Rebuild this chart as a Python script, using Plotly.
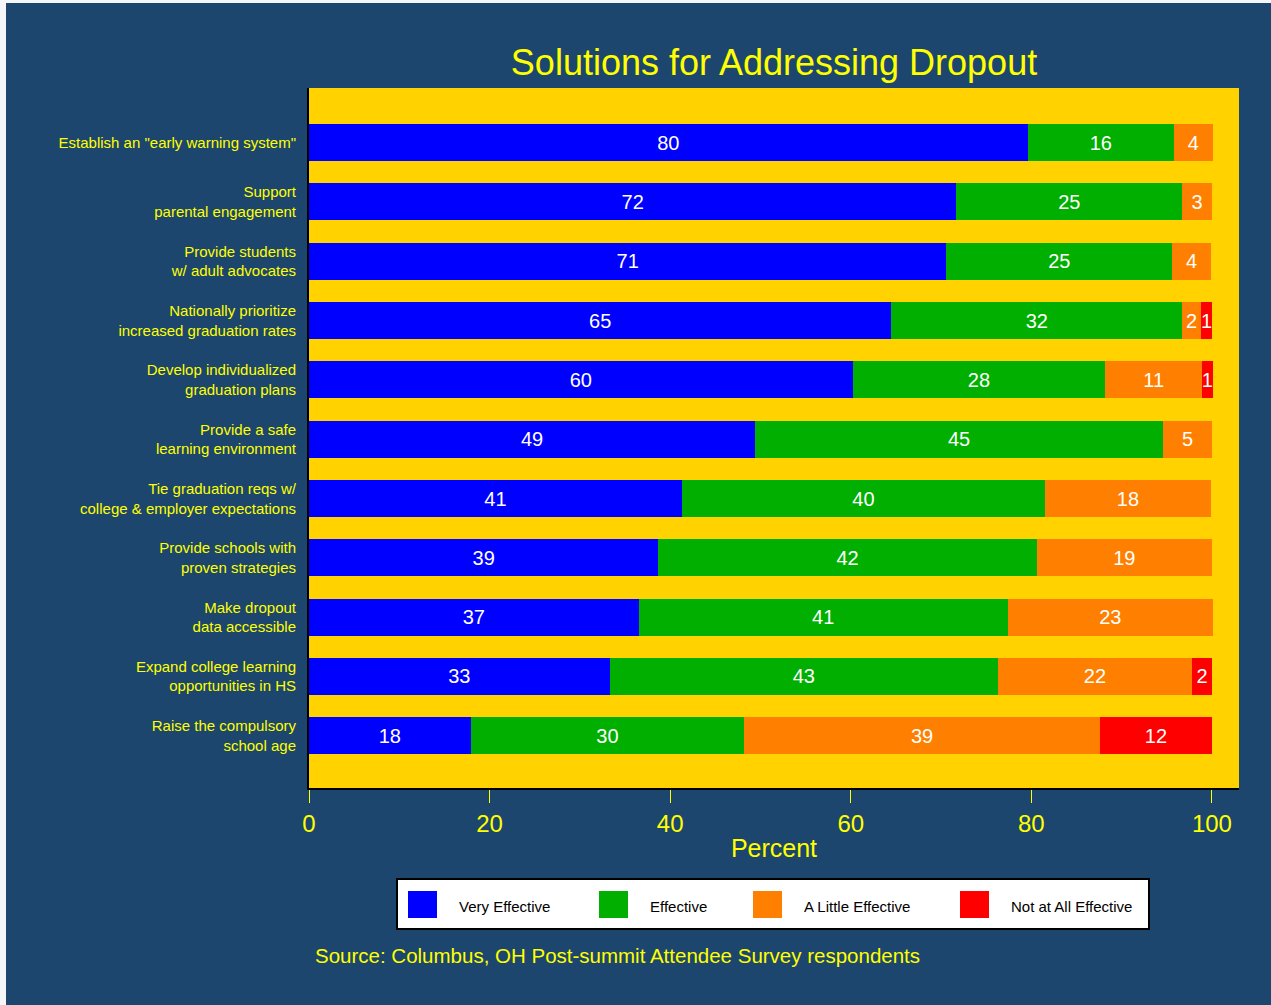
import plotly.graph_objects as go

# ---------------- data ----------------
categories = [
    'Establish an "early warning system"',
    "Support<br>parental engagement",
    "Provide students<br>w/ adult advocates",
    "Nationally prioritize<br>increased graduation rates",
    "Develop individualized<br>graduation plans",
    "Provide a safe<br>learning environment",
    "Tie graduation reqs w/<br>college & employer expectations",
    "Provide schools with<br>proven strategies",
    "Make dropout<br>data accessible",
    "Expand college learning<br>opportunities in HS",
    "Raise the compulsory<br>school age",
]
very_effective = [79.6, 71.7, 70.6, 64.5, 60.2, 49.4, 41.3, 38.7, 36.5, 33.3, 17.9]
effective = [16.2, 25.0, 25.0, 32.2, 28.0, 45.2, 40.2, 41.9, 40.9, 43.0, 30.3]
a_little_effective = [4.3, 3.3, 4.3, 2.1, 10.7, 5.4, 18.4, 19.4, 22.7, 21.5, 39.4]
not_at_all_effective = [None, None, None, 1.2, 1.2, None, None, None, None, 2.2, 12.4]

series_names = ["Very Effective", "Effective", "A Little Effective", "Not at All Effective"]
series_values = [very_effective, effective, a_little_effective, not_at_all_effective]
series_colors = ["#0000FF", "#00AF00", "#FF8000", "#FF0000"]

x_ticks = [0, 20, 40, 60, 80, 100]

title_text = "Solutions for Addressing Dropout"
x_title = "Percent"
source_text = "Source: Columbus, OH Post-summit Attendee Survey respondents"

# ---------------- layout constants ----------------
W, H = 1271, 1005
PL, PR, PT, PB = 309, 1239, 88, 788  # plot area in pixels
BG = "#1C466E"
PLOT_BG = "#FFD200"
YELLOW = "#FFFF00"
FONT = "Liberation Sans, Arial, sans-serif"


def px_x(px):
    return (px - PL) / (PR - PL)


def px_y(py):
    return (PB - py) / (PB - PT)


fig = go.Figure()
for name, vals, col in zip(series_names, series_values, series_colors):
    fig.add_trace(go.Bar(
        name=name,
        y=categories,
        x=vals,
        orientation="h",
        marker=dict(color=col, line=dict(width=0)),
        texttemplate="%{x:.0f}",
        textposition="inside",
        insidetextanchor="middle",
        textangle=0,
        constraintext="none",
        textfont=dict(color="white", size=20, family=FONT),
        showlegend=False,
        cliponaxis=False,
    ))

shapes = []
annotations = []

# light sliver at left/top edge of the image
shapes.append(dict(type="rect", xref="paper", yref="paper",
                   x0=px_x(0), x1=px_x(6), y0=px_y(H), y1=px_y(0),
                   fillcolor="#F4F6F8", line=dict(width=0), layer="above"))
shapes.append(dict(type="rect", xref="paper", yref="paper",
                   x0=px_x(0), x1=px_x(W), y0=px_y(3), y1=px_y(0),
                   fillcolor="#F4F6F8", line=dict(width=0), layer="above"))

# custom legend box
shapes.append(dict(type="rect", xref="paper", yref="paper",
                   x0=px_x(397), x1=px_x(1149), y0=px_y(929), y1=px_y(879),
                   fillcolor="white", line=dict(color="black", width=2), layer="above"))
swatch_left = [408, 599, 753, 960]
text_left = [457, 648, 802, 1009]
for name, col, sx, tx in zip(series_names, series_colors, swatch_left, text_left):
    shapes.append(dict(type="rect", xref="paper", yref="paper",
                       x0=px_x(sx), x1=px_x(sx + 29), y0=px_y(918), y1=px_y(891),
                       fillcolor=col, line=dict(width=0), layer="above"))
    annotations.append(dict(text=name, xref="paper", yref="paper",
                            x=px_x(tx), y=px_y(906), xanchor="left", yanchor="middle",
                            showarrow=False, font=dict(color="black", size=15, family=FONT)))

annotations.append(dict(text=source_text, xref="paper", yref="paper",
                        x=px_x(313), y=px_y(955), xanchor="left", yanchor="middle",
                        showarrow=False, font=dict(color=YELLOW, size=20.5, family=FONT)))

fig.update_layout(
    width=W, height=H, autosize=False,
    margin=dict(l=PL, r=W - PR, t=PT, b=H - PB, pad=0),
    paper_bgcolor=BG,
    plot_bgcolor=PLOT_BG,
    barmode="stack",
    bargap=0.377,
    font=dict(family=FONT, color=YELLOW),
    title=dict(text=title_text, x=0.5, xref="paper", xanchor="center",
               y=1 - 62 / H, yref="container", yanchor="middle",
               font=dict(size=36, color=YELLOW, family=FONT)),
    xaxis=dict(range=[0, 103], tickvals=x_ticks, ticktext=[str(t) for t in x_ticks],
               showgrid=False, zeroline=False,
               showline=True, linecolor="black", linewidth=2,
               ticks="outside", ticklen=13, tickcolor=YELLOW, tickwidth=1,
               tickfont=dict(size=24, color=YELLOW, family=FONT),
               title=dict(text=x_title, font=dict(size=25, color=YELLOW, family=FONT), standoff=4)),
    yaxis=dict(type="category", range=[10.88, -0.92],
               showgrid=False, zeroline=False,
               showline=True, linecolor="black", linewidth=2,
               ticks="", ticklabelstandoff=8,
               tickfont=dict(size=15, color=YELLOW, family=FONT)),
    shapes=shapes,
    annotations=annotations,
)

fig.write_html("out.html", config={"displayModeBar": False},
               post_script="document.body.style.margin='0px';")
